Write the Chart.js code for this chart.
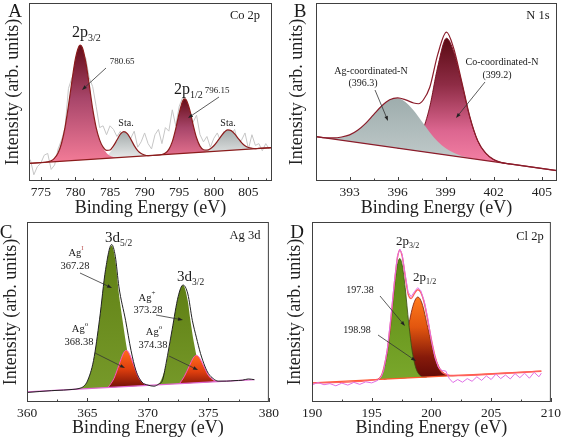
<!DOCTYPE html>
<html>
<head>
<meta charset="utf-8">
<script src="https://cdn.jsdelivr.net/npm/chart.js@4.4.1/dist/chart.umd.min.js"></script>
<style>
  html, body { margin: 0; padding: 0; background: #fff; }
  #wrap { position: relative; width: 564px; height: 440px; }
  canvas { position: absolute; }
</style>
</head>
<body>
<div id="wrap">
  <canvas id="cA" width="282" height="220" style="left:0;top:0"></canvas>
  <canvas id="cB" width="282" height="220" style="left:282px;top:0"></canvas>
  <canvas id="cC" width="282" height="220" style="left:0;top:220px"></canvas>
  <canvas id="cD" width="282" height="220" style="left:282px;top:220px"></canvas>
</div>
<script>
// ===== DATA (energies in eV, intensities in arbitrary units 0-100) =====

// --- Panel A: Co 2p ---
const ticksA = [775, 780, 785, 790, 795, 800, 805];
const rawA_E = [773.5, 774, 774.5, 775, 775.5, 776, 776.5, 777, 777.5, 778, 778.5, 779, 779.5, 780, 780.5, 781, 781.5, 782, 782.5, 783, 783.5, 784, 784.5, 785, 785.5, 786, 786.5, 787, 787.5, 788, 788.5, 789, 789.5, 790, 790.5, 791, 791.5, 792, 792.5, 793, 793.5, 794, 794.5, 795, 795.5, 796, 796.5, 797, 797.5, 798, 798.5, 799, 799.5, 800, 800.5, 801, 801.5, 802, 802.5, 803, 803.5, 804, 804.5, 805, 805.5, 806, 806.5, 807, 807.5, 808];
const rawA = [12, 3.5, 8, 10, 14.5, 15.5, 6.5, 9, 18, 23, 30, 52, 58, 56, 66, 71, 69, 58, 53, 42, 30, 31, 26, 31, 29, 25, 28, 22, 26, 24, 28, 19, 22, 27, 21, 18, 26, 29, 21, 30, 28, 40, 31, 42, 47, 44, 38, 33, 37, 26, 22, 25, 19, 24, 27, 22, 28, 24, 26, 29, 21, 23, 27, 18, 26, 20, 21, 17, 21, 18];
const baseA_E = [773.3, 808.4];
const baseA = [9.9, 18.7];
const p32A_E = [776.0, 776.5, 777.0, 777.5, 778.0, 778.5, 779.0, 779.5, 780.0, 780.5, 780.7, 781.0, 781.5, 782.0, 782.5, 783.0, 783.5, 784.0, 784.5, 785.0, 785.5, 786.0];
const p32A = [10.6, 11.4, 12.9, 15.7, 21.2, 30.0, 42.3, 56.2, 68.6, 75.6, 76.4, 75.0, 66.8, 54.1, 40.5, 30.0, 23.0, 18.5, 15.8, 14.2, 13.5, 13.1];
const sat1A_E = [783.5, 784.0, 784.5, 785.0, 785.5, 786.0, 786.5, 787.0, 787.5, 788.0, 788.5, 789.0, 789.5, 790.0, 790.5];
const sat1A = [12.5, 13.1, 14.1, 16.0, 19.1, 23.0, 26.3, 27.7, 26.6, 23.5, 19.9, 17.1, 15.4, 14.6, 14.3];
const p12A_E = [792.5, 793.0, 793.5, 794.0, 794.5, 795.0, 795.5, 795.8, 796.0, 796.5, 797.0, 797.5, 798.0, 798.5, 799.0, 799.5];
const p12A = [14.8, 15.7, 17.8, 22.1, 29.4, 38.2, 44.9, 46.1, 45.6, 40.2, 31.7, 24.3, 19.5, 17.3, 16.6, 16.5];
const sat2A_E = [798.5, 799.0, 799.5, 800.0, 800.5, 801.0, 801.5, 802.0, 802.5, 803.0, 803.5, 804.0, 804.5, 805.0, 805.5, 806.0, 806.5];
const sat2A = [16.3, 17.0, 18.0, 19.8, 22.2, 24.9, 27.4, 28.7, 28.3, 26.5, 24.0, 21.6, 19.8, 18.8, 18.4, 18.2, 18.2];
const fitA_E = [773.3, 776.0, 776.5, 777.0, 777.5, 778.0, 778.5, 779.0, 779.5, 780.0, 780.5, 780.7, 781.0, 781.5, 782.0, 782.5, 783.0, 783.5, 784.0, 784.5, 785.0, 785.5, 786.0, 786.5, 787.0, 787.5, 788.0, 788.5, 789.0, 789.5, 790.0, 790.5, 792.5, 793.0, 793.5, 794.0, 794.5, 795.0, 795.5, 795.8, 796.0, 796.5, 797.0, 797.5, 798.0, 798.5, 799.0, 799.5, 800.0, 800.5, 801.0, 801.5, 802.0, 802.5, 803.0, 803.5, 804.0, 804.5, 805.0, 805.5, 806.0, 806.5, 808.4];
const fitA = [9.9, 10.8, 11.4, 12.9, 15.7, 21.2, 30.0, 42.3, 56.2, 68.6, 75.6, 76.4, 75.0, 66.8, 54.1, 40.5, 30.0, 23.1, 19.0, 17.2, 17.4, 19.7, 23.0, 26.3, 27.7, 26.6, 23.5, 19.9, 17.1, 15.4, 14.6, 14.3, 14.9, 15.7, 17.8, 22.1, 29.4, 38.2, 44.9, 46.1, 45.6, 40.2, 31.7, 24.3, 19.6, 17.6, 17.3, 18.1, 19.8, 22.2, 24.9, 27.4, 28.7, 28.3, 26.5, 24.0, 21.6, 19.8, 18.8, 18.4, 18.2, 18.3, 18.7];

// --- Panel B: N 1s ---
const ticksB = [393, 396, 399, 402, 405];
const baseB_E = [390.9, 405.95];
const baseB = [24.9, 5.8];
const agN_E = [391.5, 392.0, 392.5, 393.0, 393.5, 394.0, 394.5, 395.0, 395.5, 396.0, 396.5, 397.0, 397.5, 398.0, 398.5, 399.0, 399.5, 400.0, 400.5, 401.0];
const agN = [24.2, 24.2, 24.7, 25.9, 28.5, 32.4, 37.3, 42.1, 45.6, 46.5, 44.3, 39.6, 33.5, 27.4, 22.2, 18.4, 15.9, 14.1, 13.0, 12.1];
const coN_E = [396.0, 396.5, 397.0, 397.5, 398.0, 398.5, 399.05, 399.5, 400.0, 400.5, 401.0, 401.5, 402.0, 402.5, 403.0];
const coN = [18.4, 18.5, 19.5, 27.0, 41.5, 64.0, 80.2, 72.6, 55.0, 36.0, 22.5, 15.5, 12.0, 10.3, 9.6];
const fitB_E = [390.9, 391.5, 392.0, 392.5, 393.0, 393.5, 394.0, 394.5, 395.0, 395.5, 396.0, 396.5, 397.0, 397.3, 397.6, 398.0, 398.5, 399.05, 399.5, 400.0, 400.5, 401.0, 401.5, 402.0, 402.5, 403.0, 405.95];
const fitB = [24.9, 24.3, 24.2, 24.7, 25.9, 28.5, 32.4, 37.3, 42.1, 45.6, 46.7, 45.6, 43.8, 43.4, 45.5, 52.5, 71.0, 83.6, 74.5, 55.8, 36.3, 22.6, 15.6, 12.0, 10.3, 9.6, 5.8];

// --- Panel C: Ag 3d ---
const ticksC = [360, 365, 370, 375, 380];
const baseC_E = [360.0, 378.8];
const baseC = [5.6, 12.4];
const agI1_E = [364.0, 364.5, 365.0, 365.5, 366.0, 366.5, 367.0, 367.3, 367.6, 367.9, 368.2, 368.6, 369.0, 369.5];
const agI1 = [7.05, 8.0, 11.7, 23.0, 46.0, 73.7, 87.0, 79.0, 60.0, 45.4, 32.0, 18.0, 11.5, 9.0];
const ag01_E = [366.7, 367.2, 367.6, 368.0, 368.2, 368.4, 368.8, 369.2, 369.6, 370.0];
const ag01 = [8.0, 13.2, 20.5, 27.5, 28.7, 27.6, 21.0, 13.9, 10.4, 9.2];
const agI2_E = [370.6, 371.0, 371.5, 372.0, 372.5, 372.9, 373.3, 373.5, 373.8, 374.3, 374.8, 375.3];
const agI2 = [9.4, 11.0, 21.0, 40.2, 58.6, 64.8, 56.0, 46.0, 33.0, 18.0, 12.5, 11.1];
const ag02_E = [372.6, 373.0, 373.4, 373.8, 374.0, 374.2, 374.6, 375.0, 375.4, 375.8];
const ag02 = [10.1, 14.1, 19.7, 25.0, 25.9, 25.1, 20.1, 14.8, 12.2, 11.3];
const fitC_E = [360.0, 361.0, 362.0, 363.0, 363.8, 364.3, 364.7, 365.0, 365.5, 366.0, 366.5, 367.0, 367.3, 367.6, 368.15, 368.6, 369.0, 369.5, 370.0, 370.5, 370.9, 371.2, 371.5, 372.0, 372.5, 372.9, 373.3, 373.67, 374.0, 374.35, 374.7, 375.0, 375.4, 375.8, 376.5, 377.2, 377.8, 378.3, 378.8];
const fitC = [5.3, 5.8, 6.3, 6.6, 7.0, 7.5, 8.8, 11.7, 23.0, 46.0, 73.7, 87.5, 81.0, 64.0, 45.4, 28.7, 17.6, 11.1, 9.4, 8.8, 10.0, 12.0, 21.5, 40.2, 58.6, 65.0, 60.0, 45.4, 36.0, 26.9, 20.0, 15.8, 13.0, 11.6, 11.6, 11.9, 12.1, 12.8, 12.4];

// --- Panel D: Cl 2p ---
const ticksD = [190, 195, 200, 205, 210];
const rawD_E = [190.0, 190.5, 191.0, 191.5, 192.0, 192.5, 193.0, 193.5, 194.0, 194.5, 195.0, 195.5, 195.8, 196.0, 196.3, 196.6, 196.9, 197.15, 197.35, 197.55, 197.8, 198.05, 198.3, 198.6, 198.85, 199.1, 199.4, 199.7, 200.0, 200.3, 200.6, 200.9, 201.2, 201.5, 201.8, 202.2, 202.6, 203.0, 203.4, 203.8, 204.2, 204.6, 205.0, 205.4, 205.8, 206.2, 206.6, 207.0, 207.4, 207.8, 208.2, 208.6, 209.0, 209.2];
const rawD = [9.5, 10.8, 9.6, 10.2, 9.0, 10.5, 9.4, 10.9, 9.8, 11.2, 10.6, 12.0, 14.0, 17.5, 29.0, 47.0, 67.0, 81.0, 85.0, 82.0, 71.0, 61.0, 58.5, 61.5, 63.5, 62.0, 56.0, 46.5, 34.0, 24.5, 19.0, 17.5, 17.2, 13.0, 10.8, 12.5, 11.0, 13.0, 11.5, 14.0, 12.0, 14.5, 12.5, 15.5, 13.0, 15.0, 12.8, 15.8, 13.5, 16.0, 13.2, 16.5, 14.0, 16.0];
const baseD_E = [190.0, 209.2];
const baseD = [10.6, 17.1];
const cl32_E = [195.5, 195.8, 196.0, 196.3, 196.6, 196.9, 197.15, 197.35, 197.55, 197.8, 198.1, 198.4, 198.7, 199.0, 199.3, 199.6];
const cl32 = [12.5, 14.3, 17.9, 27.1, 43.3, 63.3, 76.1, 79.7, 76.1, 63.6, 43.8, 27.8, 18.8, 15.1, 13.9, 13.85];
const cl12_E = [196.0, 196.5, 197.0, 197.5, 198.0, 198.5, 198.86, 199.2, 199.7, 200.2, 200.7, 201.2, 201.7, 202.2];
const cl12 = [12.6, 13.7, 17.1, 25.6, 40.1, 54.4, 58.3, 55.0, 41.2, 26.9, 18.5, 15.3, 14.6, 14.7];
const fitD_E = [190.0, 195.5, 195.8, 196.0, 196.3, 196.6, 196.9, 197.15, 197.35, 197.55, 197.8, 198.05, 198.3, 198.6, 198.85, 199.1, 199.4, 199.7, 200.0, 200.3, 200.6, 200.9, 201.3, 201.8, 209.2];
const fitD = [10.6, 12.6, 14.5, 18.5, 28.5, 45.5, 66.0, 80.0, 84.3, 81.0, 70.0, 60.0, 57.5, 60.5, 62.4, 61.0, 55.0, 45.0, 34.5, 25.5, 19.5, 16.5, 15.2, 14.7, 17.1];

// ===== HELPERS =====
const SERIF = '"Liberation Serif", "Times New Roman", serif';

function pts(xs, ys) {
    return xs.map((x, i) => ({ x: x, y: ys[i] }));
}

// vertical gradient from the top of a peak down to the lowest baseline value
function grad(stops, ys, baseYs) {
    const top = Math.max(...ys), bot = Math.min(...baseYs);
    return function (c) {
        const ch = c.chart, sy = ch.scales.y;
        if (!sy || !ch.chartArea) return stops[0][1];
        const g = ch.ctx.createLinearGradient(0, sy.getPixelForValue(top), 0, sy.getPixelForValue(bot));
        stops.forEach(s => g.addColorStop(s[0], s[1]));
        return g;
    };
}

function line(data, color, width, order, extra) {
    return Object.assign({
        data: data, borderColor: color, borderWidth: width, order: order,
        fill: false, pointRadius: 0, cubicInterpolationMode: 'monotone'
    }, extra || {});
}

function peak(data, target, bg, border, bw, order) {
    return {
        data: data, fill: { target: target }, backgroundColor: bg,
        borderColor: border, borderWidth: bw, order: order,
        pointRadius: 0, cubicInterpolationMode: 'monotone'
    };
}

// frame round the plot + small inward ticks
const framePlugin = {
    id: 'frame',
    afterDraw(chart) {
        const ctx = chart.ctx, a = chart.chartArea, sx = chart.scales.x;
        ctx.save();
        ctx.strokeStyle = '#404040';
        ctx.lineWidth = 1;
        ctx.strokeRect(a.left + 0.5, a.top + 0.5, a.right - a.left - 1, a.bottom - a.top - 1);
        const vals = sx.ticks.map(t => t.value);
        const step = vals[1] - vals[0];
        ctx.beginPath();
        vals.forEach(v => {
            const px = Math.round(sx.getPixelForValue(v)) + 0.5;
            ctx.moveTo(px, a.bottom); ctx.lineTo(px, a.bottom - 4);
            const m = Math.round(sx.getPixelForValue(v + step / 2)) + 0.5;
            if (m < a.right - 1) { ctx.moveTo(m, a.bottom); ctx.lineTo(m, a.bottom - 2.5); }
        });
        ctx.stroke();
        ctx.restore();
    }
};

function drawArrow(ctx, x1, y1, x2, y2) {
    const ang = Math.atan2(y2 - y1, x2 - x1), L = 5, W = 1.8;
    const c = Math.cos(ang), s = Math.sin(ang);
    ctx.strokeStyle = '#333';
    ctx.fillStyle = '#222';
    ctx.lineWidth = 0.8;
    ctx.beginPath();
    ctx.moveTo(x1, y1);
    ctx.lineTo(x2 - L * c, y2 - L * s);
    ctx.stroke();
    ctx.beginPath();
    ctx.moveTo(x2, y2);
    ctx.lineTo(x2 - L * c + W * s, y2 - L * s - W * c);
    ctx.lineTo(x2 - L * c - W * s, y2 - L * s + W * c);
    ctx.closePath();
    ctx.fill();
}

function drawRich(ctx, it) {
    let w = 0;
    it.parts.forEach(p => { ctx.font = p.s + 'px ' + SERIF; w += ctx.measureText(p.t).width; });
    let x = it.align === 'left' ? it.x : it.x - w / 2;
    ctx.textAlign = 'left';
    ctx.textBaseline = 'middle';
    it.parts.forEach(p => {
        ctx.font = p.s + 'px ' + SERIF;
        ctx.fillStyle = p.c || '#1a1a1a';
        ctx.fillText(p.t, x, it.y + (p.dy || 0));
        x += ctx.measureText(p.t).width;
    });
}

function notesPlugin(items) {
    return {
        id: 'notes',
        afterDraw(chart) {
            const ctx = chart.ctx;
            ctx.save();
            items.forEach(it => {
                if (it.arrow) drawArrow(ctx, ...it.arrow);
                else drawRich(ctx, it);
            });
            ctx.restore();
        }
    };
}

function makeChart(id, cfg) {
    return new Chart(document.getElementById(id), {
        type: 'line',
        data: { datasets: cfg.datasets },
        options: {
            responsive: false,
            animation: false,
            devicePixelRatio: 1,
            layout: { padding: cfg.pad },
            plugins: { legend: { display: false }, tooltip: { enabled: false } },
            scales: {
                x: {
                    type: 'linear', min: cfg.xMin, max: cfg.xMax,
                    afterBuildTicks: s => { s.ticks = cfg.ticks.map(v => ({ value: v })); },
                    afterFit: s => { s.height = cfg.xH; },
                    grid: { display: false, drawTicks: false },
                    border: { display: false },
                    ticks: { font: { family: SERIF, size: 13.5 }, color: '#222', padding: 3, maxRotation: 0, autoSkip: false },
                    title: { display: true, text: 'Binding Energy (eV)', font: { family: SERIF, size: 18 }, color: '#222', padding: { top: 0, bottom: 1 } }
                },
                y: {
                    min: 0, max: 100,
                    afterFit: s => { s.width = cfg.yW; },
                    grid: { display: false, drawTicks: false },
                    border: { display: false },
                    ticks: { display: false },
                    title: { display: true, text: 'Intensity (arb. units)', font: { family: SERIF, size: 18 }, color: '#222', padding: { top: cfg.yPad, bottom: 0 } }
                }
            }
        },
        plugins: [framePlugin, notesPlugin(cfg.notes)]
    });
}

// ===== COLOURS =====
const pinkA = [[0, '#650c17'], [0.45, '#a8466a'], [1, '#f47c98']];
const grayA = [[0, '#a3abab'], [1, '#f6f6f6']];
const pinkB = [[0, '#5a0a12'], [0.35, '#8e2c45'], [0.7, '#dc6690'], [1, '#f986a8']];
const grayB = [[0, '#9eadad'], [1, '#c6cfcf']];
const greenC = [[0, '#5f7f14'], [1, '#779a2a']];
const orangeC = [[0, '#ff6a1c'], [0.45, '#de3e0e'], [1, '#5a0606']];
const greenD = [[0, '#5c8812'], [1, '#7aa82c']];
const orangeD = [[0, '#ff7a1c'], [0.35, '#e2560f'], [0.7, '#861a0a'], [1, '#5a0606']];

// ===== PANEL A =====
makeChart('cA', {
    xMin: 773.3, xMax: 808.4, ticks: ticksA, xH: 39, yW: 29, yPad: 2,
    pad: { left: 0, right: 10, top: 3, bottom: 0 },
    datasets: [
        line(pts(rawA_E, rawA), '#c6c6c6', 1, 10, { cubicInterpolationMode: 'default', tension: 0 }),
        line(pts(baseA_E, baseA), '#8b1c1c', 1.2, 2, { cubicInterpolationMode: 'default' }),
        peak(pts(p32A_E, p32A), 1, grad(pinkA, p32A, baseA), 'rgba(0,0,0,0)', 0, 5),
        peak(pts(sat1A_E, sat1A), 1, grad(grayA, sat1A, baseA), 'rgba(0,0,0,0)', 0, 5),
        peak(pts(p12A_E, p12A), 1, grad(pinkA, p12A, baseA), 'rgba(0,0,0,0)', 0, 5),
        peak(pts(sat2A_E, sat2A), 1, grad(grayA, sat2A, baseA), 'rgba(0,0,0,0)', 0, 5),
        line(pts(fitA_E, fitA), '#8b1c1c', 1.2, 1)
    ],
    notes: [
        { x: 15, y: 12, parts: [{ t: 'A', s: 19 }] },
        { x: 245, y: 16, parts: [{ t: 'Co 2p', s: 12.5 }] },
        { x: 72, y: 33, align: 'left', parts: [{ t: '2p', s: 16 }, { t: '3/2', s: 10, dy: 5 }] },
        { x: 122, y: 62, parts: [{ t: '780.65', s: 9 }] },
        { arrow: [106, 68, 82, 90] },
        { x: 126, y: 123, parts: [{ t: 'Sta.', s: 10 }] },
        { x: 174, y: 90, align: 'left', parts: [{ t: '2p', s: 16 }, { t: '1/2', s: 10, dy: 5 }] },
        { x: 217, y: 91, parts: [{ t: '796.15', s: 9 }] },
        { arrow: [219, 97, 188, 118] },
        { x: 228, y: 123, parts: [{ t: 'Sta.', s: 10 }] }
    ]
});

// ===== PANEL B =====
makeChart('cB', {
    xMin: 390.9, xMax: 405.95, ticks: ticksB, xH: 39, yW: 34, yPad: 4,
    pad: { left: 0, right: 7, top: 3, bottom: 0 },
    datasets: [
        line(pts(baseB_E, baseB), '#8b1c2a', 1.2, 2, { cubicInterpolationMode: 'default' }),
        peak(pts(coN_E, coN), 0, grad(pinkB, coN, baseB), '#7a1424', 1, 6),
        peak(pts(agN_E, agN), 0, grad(grayB, agN, baseB), 'rgba(0,0,0,0)', 0, 5),
        line(pts(fitB_E, fitB), '#8b1c2a', 1.2, 1)
    ],
    notes: [
        { x: 18, y: 12, parts: [{ t: 'B', s: 19 }] },
        { x: 256, y: 16, parts: [{ t: 'N 1s', s: 12.5 }] },
        { x: 89, y: 71, parts: [{ t: 'Ag-coordinated-N', s: 10 }] },
        { x: 81, y: 83, parts: [{ t: '(396.3)', s: 10 }] },
        { arrow: [93, 90, 106, 121] },
        { x: 220, y: 62, parts: [{ t: 'Co-coordinated-N', s: 10 }] },
        { x: 215, y: 75, parts: [{ t: '(399.2)', s: 10 }] },
        { arrow: [203, 82, 174, 118] }
    ]
});

// ===== PANEL C =====
makeChart('cC', {
    xMin: 360, xMax: 380, ticks: ticksC, xH: 38, yW: 27, yPad: 0,
    pad: { left: 0, right: 9, top: 2, bottom: 0 },
    datasets: [
        line(pts(baseC_E, baseC), '#e066d0', 1.2, 1.5, { cubicInterpolationMode: 'default' }),
        peak(pts(agI1_E, agI1), 0, grad(greenC, agI1, baseC), 'rgba(0,0,0,0)', 0, 6),
        peak(pts(agI2_E, agI2), 0, grad(greenC, agI2, baseC), 'rgba(0,0,0,0)', 0, 6),
        peak(pts(ag01_E, ag01), 0, grad(orangeC, ag01, baseC), '#ff50c0', 1, 5),
        peak(pts(ag02_E, ag02), 0, grad(orangeC, ag02, baseC), '#ff50c0', 1, 5),
        line(pts(fitC_E, fitC), '#222222', 1, 1)
    ],
    notes: [
        { x: 6, y: 13, parts: [{ t: 'C', s: 19 }] },
        { x: 245, y: 16, parts: [{ t: 'Ag 3d', s: 12.5 }] },
        { x: 105, y: 18, align: 'left', parts: [{ t: '3d', s: 15 }, { t: '5/2', s: 9.5, dy: 5 }] },
        { x: 76, y: 33, parts: [{ t: 'Ag', s: 10.5 }, { t: 'I', s: 7, dy: -5, c: '#c06060' }] },
        { x: 75, y: 46, parts: [{ t: '367.28', s: 10.5 }] },
        { arrow: [80, 53, 112, 68] },
        { x: 80, y: 109, parts: [{ t: 'Ag', s: 10.5 }, { t: 'o', s: 7, dy: -5 }] },
        { x: 79, y: 122, parts: [{ t: '368.38', s: 10.5 }] },
        { arrow: [95, 133, 125, 148] },
        { x: 177, y: 57, align: 'left', parts: [{ t: '3d', s: 15 }, { t: '3/2', s: 9.5, dy: 5 }] },
        { x: 147, y: 78, parts: [{ t: 'Ag', s: 10.5 }, { t: '+', s: 7, dy: -5 }] },
        { x: 148, y: 90, parts: [{ t: '373.28', s: 10.5 }] },
        { arrow: [156, 95, 183, 100] },
        { x: 154, y: 112, parts: [{ t: 'Ag', s: 10.5 }, { t: 'o', s: 7, dy: -5 }] },
        { x: 153, y: 125, parts: [{ t: '374.38', s: 10.5 }] },
        { arrow: [169, 136, 198, 150] }
    ]
});

// ===== PANEL D =====
makeChart('cD', {
    xMin: 190, xMax: 210, ticks: ticksD, xH: 38, yW: 30, yPad: 2,
    pad: { left: 0, right: 9, top: 2, bottom: 0 },
    datasets: [
        line(pts(rawD_E, rawD), '#e070e6', 1, 1, { cubicInterpolationMode: 'default', tension: 0 }),
        line(pts(baseD_E, baseD), '#ff5a30', 1.2, 3, { cubicInterpolationMode: 'default' }),
        peak(pts(cl12_E, cl12), 1, grad(orangeD, cl12, baseD), '#7a1a0a', 0.8, 6),
        peak(pts(cl32_E, cl32), 1, grad(greenD, cl32, baseD), '#3a4a14', 0.8, 5),
        line(pts(fitD_E, fitD), '#ff6060', 1.4, 2)
    ],
    notes: [
        { x: 15, y: 13, parts: [{ t: 'D', s: 19 }] },
        { x: 248, y: 17, parts: [{ t: 'Cl 2p', s: 12.5 }] },
        { x: 114, y: 22, align: 'left', parts: [{ t: '2p', s: 13 }, { t: '3/2', s: 8, dy: 4 }] },
        { x: 131, y: 58, align: 'left', parts: [{ t: '2p', s: 13 }, { t: '1/2', s: 8, dy: 4 }] },
        { x: 78, y: 70, parts: [{ t: '197.38', s: 10 }] },
        { arrow: [98, 76, 123, 106] },
        { x: 75, y: 110, parts: [{ t: '198.98', s: 10 }] },
        { arrow: [96, 115, 134, 141] }
    ]
});
</script>
</body>
</html>
